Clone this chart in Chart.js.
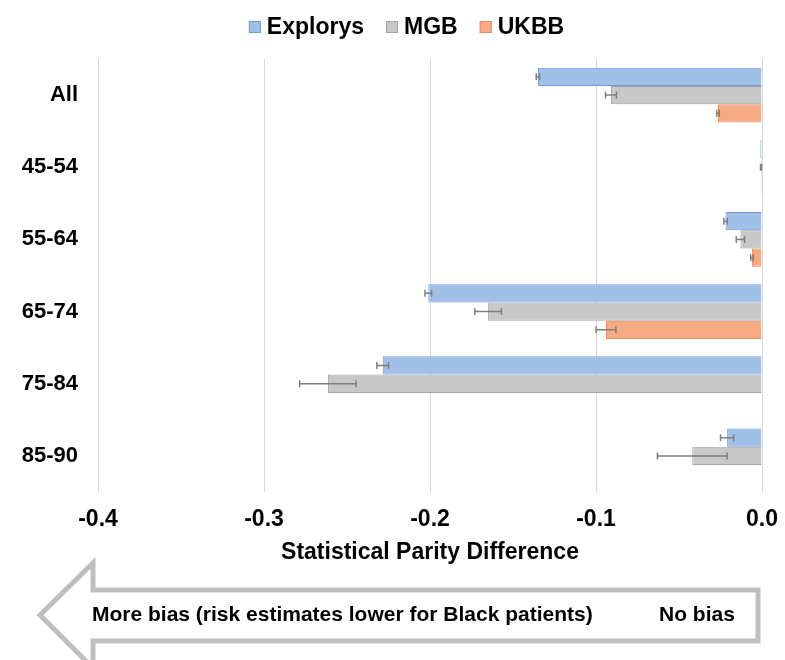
<!DOCTYPE html>
<html>
<head>
<meta charset="utf-8">
<script src="https://cdn.jsdelivr.net/npm/chart.js@4.4.1/dist/chart.umd.min.js"></script>
<style>
    html, body { margin: 0; padding: 0; background: #ffffff; }
    #wrap { width: 785px; height: 660px; position: relative; }
</style>
</head>
<body>
<div id="wrap"><canvas id="parityChart" width="785" height="660"></canvas></div>
<script>
// age groups, top to bottom
const categories = ['All', '45-54', '55-64', '65-74', '75-84', '85-90'];

// statistical parity difference per cohort
const explorysValues = [-0.135, -0.001, -0.022, -0.201, -0.2285, -0.021];
const mgbValues = [-0.091, -0.0006, -0.013, -0.165, -0.2615, -0.042];
const ukbbValues = [-0.0265, -0.0006, -0.006, -0.094, null, null];

// half width of the error bars
const explorysErrors = [0.001, null, 0.001, 0.002, 0.0035, 0.004];
const mgbErrors = [0.0033, 0.0003, 0.0025, 0.008, 0.017, 0.021];
const ukbbErrors = [0.0008, null, 0.0008, 0.006, null, null];

const xTicks = [-0.4, -0.3, -0.2, -0.1, 0.0];

const FONT = "'Liberation Sans', Arial, Helvetica, sans-serif";


const errorBarPlugin = {
    id: 'errorBars',
    afterDatasetsDraw(chart) {
        const ctx = chart.ctx;
        const xScale = chart.scales.x;
        ctx.save();
        ctx.strokeStyle = '#7f7f7f';
        ctx.lineWidth = 1.5;
        chart.data.datasets.forEach((ds, i) => {
            const meta = chart.getDatasetMeta(i);
            meta.data.forEach((bar, j) => {
                const v = ds.data[j];
                const e = ds.errors[j];
                if (v === null || e === null) return;
                const x1 = xScale.getPixelForValue(v - e);
                const x2 = xScale.getPixelForValue(v + e);
                const y = bar.y;
                ctx.beginPath();
                ctx.moveTo(x1, y);
                ctx.lineTo(x2, y);
                ctx.moveTo(x1, y - 3.5);
                ctx.lineTo(x1, y + 3.5);
                ctx.moveTo(x2, y - 3.5);
                ctx.lineTo(x2, y + 3.5);
                ctx.stroke();
            });
        });
        ctx.restore();
    }
};


// legend drawn by hand so the box/text spacing matches
const topLegendPlugin = {
    id: 'topLegend',
    afterDraw(chart) {
        const ctx = chart.ctx;
        const datasets = chart.data.datasets;
        const boxSize = 12, boxGap = 6, itemGap = 22;
        ctx.save();
        ctx.font = 'bold 23px ' + FONT;
        ctx.textBaseline = 'middle';
        ctx.textAlign = 'left';
        let total = 0;
        datasets.forEach((ds, i) => {
            total += boxSize + boxGap + ctx.measureText(ds.label).width;
            if (i < datasets.length - 1) total += itemGap;
        });
        let x = chart.width / 2 + 14 - total / 2;
        const y = 27;
        datasets.forEach(ds => {
            ctx.fillStyle = ds.backgroundColor;
            ctx.strokeStyle = ds.borderColor;
            ctx.lineWidth = 1;
            ctx.fillRect(x, y - boxSize / 2, boxSize, boxSize);
            ctx.strokeRect(x + 0.5, y - boxSize / 2 + 0.5, boxSize - 1, boxSize - 1);
            x += boxSize + boxGap;
            ctx.fillStyle = '#000000';
            ctx.fillText(ds.label, x, y + 1);
            x += ctx.measureText(ds.label).width + itemGap;
        });
        ctx.restore();
    }
};


// the big outlined arrow under the axis
const biasArrowPlugin = {
    id: 'biasArrow',
    afterDraw(chart) {
        const ctx = chart.ctx;
        const right = chart.chartArea.right - 4;
        const tipX = 40, headX = 93;
        const midY = 615, top = 590, bottom = 641;
        ctx.save();
        ctx.strokeStyle = '#bfbfbf';
        ctx.lineWidth = 5;
        ctx.lineJoin = 'miter';
        ctx.beginPath();
        ctx.moveTo(tipX, midY);
        ctx.lineTo(headX, 563);
        ctx.lineTo(headX, top);
        ctx.lineTo(right, top);
        ctx.lineTo(right, bottom);
        ctx.lineTo(headX, bottom);
        ctx.lineTo(headX, 668);
        ctx.closePath();
        ctx.stroke();

        ctx.fillStyle = '#000000';
        ctx.font = 'bold 21px ' + FONT;
        ctx.textBaseline = 'middle';
        ctx.textAlign = 'left';
        ctx.fillText('More bias (risk estimates lower for Black patients)', 92, midY);
        ctx.fillText('No bias', 659, midY);
        ctx.restore();
    }
};


function initializeChart() {
    const ctx = document.getElementById('parityChart').getContext('2d');
    new Chart(ctx, {
        type: 'bar',
        data: {
            labels: categories,
            datasets: [{
                label: 'Explorys',
                data: explorysValues,
                errors: explorysErrors,
                backgroundColor: '#a0c0ea',
                borderColor: '#6f9bd5',
                borderWidth: 1
            }, {
                label: 'MGB',
                data: mgbValues,
                errors: mgbErrors,
                backgroundColor: '#c8c8c8',
                borderColor: '#a3a3a3',
                borderWidth: 1
            }, {
                label: 'UKBB',
                data: ukbbValues,
                errors: ukbbErrors,
                backgroundColor: '#f7ab85',
                borderColor: '#e88b5e',
                borderWidth: 1
            }]
        },
        options: {
            indexAxis: 'y',
            responsive: false,
            animation: false,
            categoryPercentage: 0.76,
            barPercentage: 1.0,
            layout: {
                padding: { top: 59, right: 23, bottom: 91, left: 0 }
            },
            plugins: {
                legend: { display: false },
                tooltip: { enabled: false }
            },
            scales: {
                x: {
                    min: -0.4,
                    max: 0,
                    afterBuildTicks: scale => {
                        scale.ticks = xTicks.map(v => ({ value: v }));
                    },
                    afterFit: scale => {
                        scale.height = 77;
                        scale.paddingLeft = 0;
                        scale.paddingRight = 0;
                    },
                    ticks: {
                        color: '#000000',
                        font: { family: FONT, size: 23, weight: 'bold' },
                        padding: 14,
                        callback: value => Number(value).toFixed(1)
                    },
                    grid: {
                        color: '#d9d9d9',
                        lineWidth: 1,
                        drawTicks: false
                    },
                    border: { display: false },
                    title: {
                        display: true,
                        text: 'Statistical Parity Difference',
                        color: '#000000',
                        font: { family: FONT, size: 23, weight: 'bold' },
                        padding: { top: 2, bottom: 3 }
                    }
                },
                y: {
                    afterFit: scale => {
                        scale.width = 98;
                    },
                    ticks: {
                        color: '#000000',
                        font: { family: FONT, size: 22, weight: 'bold' },
                        padding: 12
                    },
                    grid: { display: false },
                    border: { display: false }
                }
            }
        },
        plugins: [errorBarPlugin, topLegendPlugin, biasArrowPlugin]
    });
}

document.addEventListener('DOMContentLoaded', function() {
    initializeChart();
});
</script>
</body>
</html>
